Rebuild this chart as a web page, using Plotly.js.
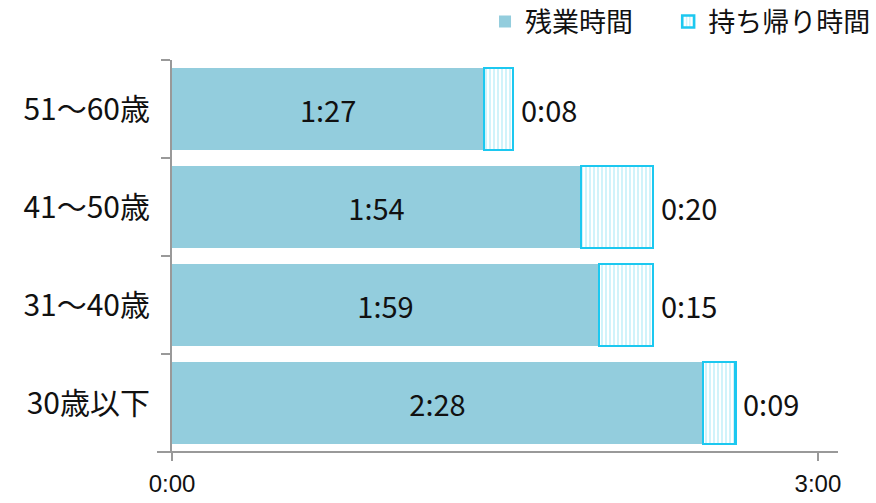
<!DOCTYPE html>
<html>
<head>
<meta charset="utf-8">
<script src="https://cdn.plot.ly/plotly-3.0.1.min.js"></script>
<style>html,body{margin:0;padding:0;background:#fff;}#chart{width:876px;height:503px;}</style>
</head>
<body>
<div id="chart"></div>
<script>
// categories (top to bottom)
const categories = ['51～60歳', '41～50歳', '31～40歳', '30歳以下'];
// minutes
const overtimeMin = [87, 114, 119, 148];
const takeHomeMin = [8, 20, 15, 9];
const seriesNames = ['残業時間', '持ち帰り時間'];
const xTickVals = [0, 180];
const xTickText = ['0:00', '3:00'];

function fmt(m) { const h = Math.floor(m / 60); const mm = m % 60; return h + ':' + (mm < 10 ? '0' : '') + mm; }

const font = '"Noto Sans CJK JP", "Noto Sans", sans-serif';

const traces = [
  {
    type: 'bar', orientation: 'h', name: seriesNames[0], legend: 'legend',
    y: categories, x: overtimeMin,
    marker: { color: '#93CDDD', line: { width: 0 } },
    text: overtimeMin.map(fmt), textposition: 'inside', insidetextanchor: 'middle',
    textfont: { family: font, size: 29, color: '#111' },
    hoverinfo: 'none'
  },
  {
    type: 'bar', orientation: 'h', name: seriesNames[1], legend: 'legend2',
    y: categories, x: takeHomeMin,
    marker: { color: '#ffffff', line: { color: '#1CC8F0', width: 2.5 },
      pattern: { shape: '|', fgcolor: '#BDEFF8', bgcolor: '#ffffff', size: 4, solidity: 0.35 } },
    textposition: 'none',
    hoverinfo: 'none'
  }
];

const annotations = categories.map((c, i) => ({
  x: overtimeMin[i] + takeHomeMin[i], y: c, xref: 'x', yref: 'y',
  text: fmt(takeHomeMin[i]), showarrow: false, xanchor: 'left', xshift: 6,
  font: { family: font, size: 29, color: '#111' }
}));

const legendBase = { orientation: 'h', xanchor: 'left', y: 1.097, yanchor: 'middle',
  font: { family: font, size: 27, color: '#111' }, itemwidth: 30, bgcolor: 'rgba(0,0,0,0)' };

const layout = {
  width: 876, height: 503,
  margin: { l: 172, r: 38, t: 60, b: 51, autoexpand: false },
  paper_bgcolor: '#fff', plot_bgcolor: '#fff',
  barmode: 'stack', bargap: 0.163,
  showlegend: true,
  legend: Object.assign({}, legendBase, { x: 0.47 }),
  legend2: Object.assign({}, legendBase, { x: 0.745 }),
  xaxis: {
    range: [0, 185.6], tickvals: xTickVals, ticktext: xTickText,
    showgrid: false, zeroline: false, showline: false,
    ticks: 'outside', ticklen: 8, tickwidth: 2, tickcolor: '#999',
    tickfont: { family: '"Liberation Sans Narrow", "Liberation Sans", sans-serif', size: 24, color: '#111' },
    ticklabelstandoff: 2, fixedrange: true
  },
  yaxis: {
    type: 'category', categoryorder: 'array', categoryarray: categories, autorange: 'reversed',
    showgrid: false, zeroline: false, showline: true, linecolor: '#999', linewidth: 2,
    ticks: 'outside', tickson: 'boundaries', ticklen: 9, tickwidth: 2, tickcolor: '#999',
    tickfont: { family: font, size: 30, color: '#111' },
    ticklabelstandoff: 14, fixedrange: true
  },
  shapes: [
    { type: 'line', xref: 'paper', yref: 'paper', x0: -0.0225, x1: 1, y0: 0, y1: 0,
      line: { color: '#999', width: 2 } }
  ],
  annotations: annotations
};

Plotly.newPlot('chart', traces, layout, { displayModeBar: false, staticPlot: true });
</script>
</body>
</html>
